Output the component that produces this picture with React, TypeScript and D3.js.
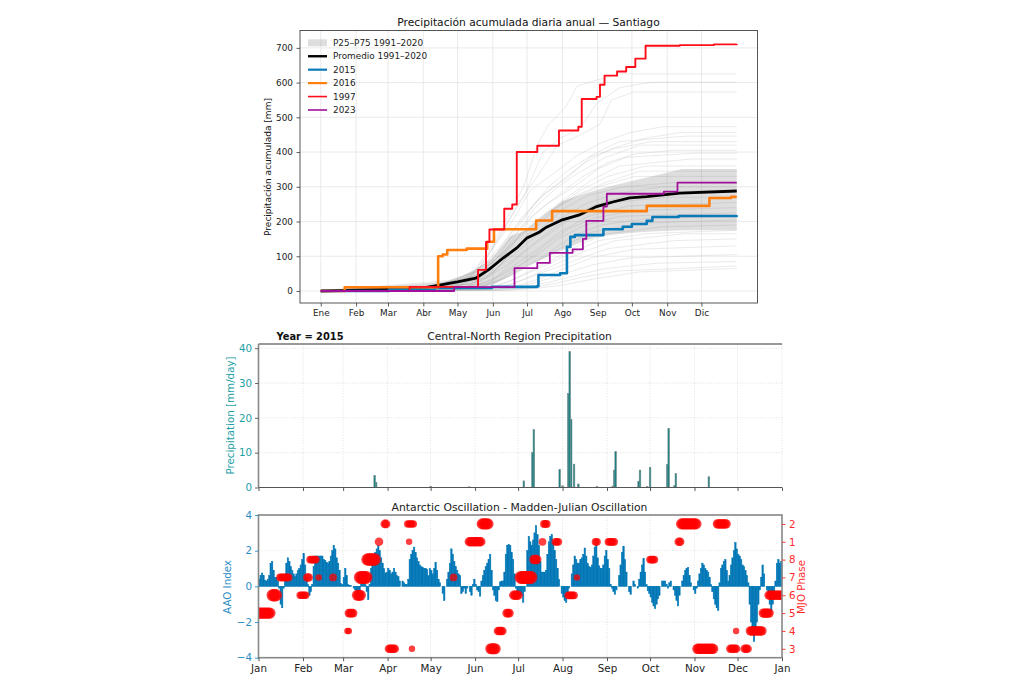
import { useEffect, useRef } from 'react';
import * as d3 from 'd3';

type Step = [number, number];

// top panel: accumulated precipitation, [day of year, mm]
const mesesEs = ['Ene', 'Feb', 'Mar', 'Abr', 'May', 'Jun', 'Jul', 'Ago', 'Sep', 'Oct', 'Nov', 'Dic'];
const monthStarts = [0, 31, 59, 90, 120, 151, 181, 212, 243, 273, 304, 334];
const yTicksTop = [0, 100, 200, 300, 400, 500, 600, 700];

const year1997: Step[] = [[0, 0], [78, 12], [136, 12], [138, 61], [145, 141], [148, 177], [161, 237], [168, 249], [172, 400], [190, 418], [209, 462], [226, 473], [229, 553], [242, 559], [245, 594], [249, 620], [260, 632], [268, 645], [276, 669], [285, 706], [315, 708], [345, 710], [365, 711]];
const year2016: Step[] = [[0, 0], [21, 11], [103, 100], [107, 105], [111, 118], [128, 122], [146, 142], [152, 178], [189, 203], [203, 230], [286, 245], [341, 268], [360, 271], [365, 271]];
const year2015: Step[] = [[0, 0], [60, 4], [100, 9], [150, 12], [190, 14], [191, 46], [210, 51], [216, 127], [219, 156], [223, 161], [248, 178], [265, 185], [273, 193], [286, 202], [291, 213], [314, 216], [365, 218]];
const year2023: Step[] = [[0, 0], [117, 11], [170, 66], [190, 81], [201, 110], [221, 120], [230, 150], [233, 202], [248, 243], [251, 280], [301, 286], [313, 312], [365, 312]];
const meanDays = [0, 60, 90, 104, 120, 136, 148, 160, 172, 181, 192, 198, 212, 227, 242, 257, 271, 286, 315, 365];
const meanVals = [0, 5, 9, 17, 26, 37, 63, 95, 124, 153, 170, 184, 205, 219, 243, 257, 268, 272, 282, 288];
const bandDays = [0, 60, 90, 105, 120, 135, 151, 166, 181, 195, 212, 227, 242, 256, 271, 290, 317, 340, 365];
const bandHigh = [0, 4, 10, 20, 38, 60, 95, 158, 176, 215, 259, 275, 291, 303, 315, 330, 351, 351, 351];
const bandLow = [0, 0, 0, 1, 4, 8, 17, 43, 72, 92, 118, 138, 156, 162, 167, 171, 175, 175, 175];

const otherYears: Step[][] = [
  [[0, 0], [120, 20], [135, 60], [150, 130], [165, 220], [178, 300], [190, 420], [200, 480], [215, 530], [225, 590], [245, 610], [262, 625], [365, 625]],
  [[0, 0], [128, 30], [145, 90], [160, 180], [178, 270], [195, 400], [210, 440], [228, 470], [242, 540], [262, 585], [290, 601], [365, 601]],
  [[0, 0], [110, 15], [140, 70], [158, 160], [175, 260], [190, 330], [208, 420], [225, 445], [245, 480], [255, 550], [275, 573], [365, 573]],
  [[0, 0], [95, 8], [132, 45], [150, 120], [166, 190], [184, 290], [205, 340], [225, 390], [245, 425], [270, 455], [300, 473], [365, 473]],
  [[0, 0], [118, 12], [138, 40], [155, 95], [172, 180], [190, 260], [212, 320], [232, 370], [255, 410], [285, 440], [315, 456], [365, 456]],
  [[0, 0], [40, 6], [124, 25], [146, 85], [163, 150], [180, 220], [200, 300], [218, 350], [240, 395], [262, 430], [320, 446], [365, 446]],
  [[0, 0], [102, 10], [141, 50], [160, 135], [176, 210], [196, 280], [218, 330], [236, 385], [258, 410], [290, 430], [365, 430]],
  [[0, 0], [90, 18], [128, 35], [152, 70], [170, 155], [188, 240], [206, 295], [226, 340], [250, 385], [280, 420], [365, 420]],
  [[0, 0], [133, 20], [148, 60], [168, 130], [185, 215], [210, 280], [230, 330], [252, 370], [276, 395], [310, 405], [365, 405]],
  [[0, 0], [112, 30], [136, 55], [155, 110], [178, 190], [196, 245], [222, 300], [245, 355], [268, 385], [330, 397], [365, 397]],
  [[0, 0], [26, 8], [121, 14], [150, 65], [172, 150], [190, 205], [214, 265], [238, 320], [262, 360], [325, 380], [365, 380]],
  [[0, 0], [106, 22], [142, 60], [162, 115], [182, 180], [206, 240], [228, 290], [252, 330], [285, 360], [365, 360]],
  [[0, 0], [125, 9], [147, 40], [166, 105], [184, 170], [204, 230], [224, 275], [248, 310], [280, 345], [365, 345]],
  [[0, 0], [98, 15], [137, 45], [156, 100], [176, 165], [198, 225], [220, 265], [244, 300], [275, 330], [365, 330]],
  [[0, 0], [130, 18], [152, 55], [170, 120], [192, 175], [212, 235], [234, 275], [266, 300], [310, 312], [365, 312]],
  [[0, 0], [115, 14], [144, 38], [164, 90], [186, 150], [208, 205], [232, 250], [258, 280], [300, 300], [365, 300]],
  [[0, 0], [134, 10], [155, 42], [174, 100], [194, 150], [216, 200], [238, 245], [268, 275], [335, 290], [365, 290]],
  [[0, 0], [108, 8], [140, 28], [162, 72], [182, 125], [204, 180], [226, 225], [256, 255], [305, 270], [365, 270]],
  [[0, 0], [127, 12], [150, 30], [168, 70], [190, 120], [210, 170], [235, 215], [270, 245], [365, 255]],
  [[0, 0], [139, 8], [158, 35], [178, 80], [198, 135], [218, 180], [240, 210], [275, 232], [365, 240]],
  [[0, 0], [116, 6], [146, 22], [166, 60], [188, 100], [208, 150], [232, 190], [262, 215], [365, 225]],
  [[0, 0], [131, 5], [156, 30], [176, 62], [200, 110], [222, 160], [246, 190], [290, 210], [365, 215]],
  [[0, 0], [122, 7], [148, 18], [170, 48], [192, 90], [214, 130], [238, 170], [280, 195], [365, 205]],
  [[0, 0], [143, 4], [162, 22], [184, 58], [206, 95], [228, 135], [252, 165], [300, 185], [365, 190]],
  [[0, 0], [135, 6], [154, 15], [174, 40], [196, 72], [220, 110], [244, 145], [285, 165], [365, 175]],
  [[0, 0], [149, 5], [168, 20], [186, 45], [208, 80], [232, 115], [258, 145], [320, 165], [365, 165]],
  [[0, 0], [141, 3], [160, 12], [180, 35], [202, 62], [226, 92], [252, 122], [310, 145], [365, 150]],
  [[0, 0], [153, 4], [172, 14], [194, 38], [216, 68], [240, 98], [275, 120], [365, 130]],
  [[0, 0], [147, 2], [166, 8], [188, 24], [212, 48], [238, 75], [270, 95], [365, 105]],
  [[0, 0], [157, 3], [178, 10], [200, 25], [224, 45], [250, 65], [295, 80], [365, 85]],
  [[0, 0], [161, 2], [184, 9], [206, 22], [230, 40], [262, 58], [365, 72]],
  [[0, 0], [165, 2], [190, 8], [214, 18], [240, 35], [280, 55], [365, 65]],
];

// middle panel: daily precipitation 2015, day of year and mm/day
const rainDays = [81, 82, 120, 147, 185, 191, 192, 210, 212, 216, 217, 218, 220, 223, 236, 247, 248, 249, 265, 266, 271, 273, 285, 286, 290, 291, 314];
const rainVals = [3.5, 1.5, 0.3, 0.2, 1.9, 10, 16.6, 5.2, 0.5, 27, 39, 19.6, 6.7, 1, 0.3, 0.4, 5, 10.3, 1.8, 5, 0.3, 5.8, 6.6, 17, 0.5, 4, 3.1];
const yTicksMid = [0, 10, 20, 30, 40];

// bottom panel: daily AAO index starting Jan 1, ten days per row
const aaoVals = [
  0.4, 0.6, 0.75, 0.6, 0.35, 0.3, 0.4, 0.6, 1.3, 1.4,
  0.9, 0.5, 0.5, 0.3, -0.1, -1.0, -1.2, -0.1, 0.3, 1.3,
  1.6, 1.4, 1.1, 0.9, 0.7, 0.55, 0.7, 0.9, 1.0, 1.2,
  1.5, 1.85, 1.2, 0.5, 0.1, -0.5, -0.3, 0.1, 1.1, 1.7,
  1.7, 1.7, 1.7, 1.7, 1.7, 1.5, 1.45, 1.35, 1.3, 1.4,
  1.7, 2.0, 2.3, 2.1, 1.6, 1.3, 0.9, 0.15, 0.1, 0.5,
  1.0, 0.6, 0.1, 0.05, 0.05, 0, -0.1, -0.2, -0.3, -0.4,
  -0.2, 0.1, 0.2, 0.2, 0.1, -0.3, -0.75, 0.1, 1.0, 1.3,
  1.6, 1.9, 2.1, 2.3, 2.0, 1.6, 1.3, 1.0, 0.75, 0.8,
  1.0, 0.9, 0.7, 0.8, 1.0, 0.8, 0.6, 0.55, 0.3, 0,
  0.3, 0.2, 0.1, 0.1, 0.4, 1.5, 1.8, 2.0, 2.2, 1.9,
  1.6, 1.4, 1.2, 1.1, 1.05, 1.0, 1.0, 0.95, 0.6, 1.0,
  0.9, 0.7, 1.0, 1.35, 0.9, 0.4, 0.2, 0, -0.4, -0.8,
  0, 0.4, 0.8, 1.3, 2.1, 1.8, 1.4, 1.1, 0.9, 0.7,
  0.6, -0.4, -0.3, -0.1, -0.4, -0.1, 0, -0.3, -0.5, 0.1,
  0.4, 0.1, -0.2, -0.3, -0.55, 0.3, 0.6, 0.9, 1.1, 1.3,
  1.5, 1.8, 0.9, -0.2, -0.5, -0.8, -0.85, -0.2, 0.25, 0.3,
  0.3, 0.8, 1.8, 2.3, 2.35, 2.3, 1.9, 1.5, 0.7, -0.1,
  -0.3, -0.4, -0.4, -0.5, -0.9, -0.3, 0, 2.0, 2.8, 2.5,
  2.3, 2.6, 3.0, 3.4, 2.9, 2.3, 1.4, 0.8, 0.8, 0.8,
  0.9, 1.8, 2.5, 2.8, 2.9, 2.5, 2.0, 1.5, 1.0, 0.4,
  0, -0.4, -0.6, -0.8, -0.9, -0.4, -0.1, 0, 0.7, 1.2,
  1.7, 1.5, 1.3, 1.3, 1.5, 1.6, 1.8, 2.15, 1.7, 1.3,
  1.1, 1.05, 1.2, 1.7, 2.2, 2.3, 1.6, 1.15, 1.0, 1.0,
  1.2, 1.7, 2.0, 1.5, 1.0, 0.1, -0.1, -0.3, -0.45, -0.2,
  0, 0.6, 1.2, 1.9, 2.25, 1.5, 0.8, 0, -0.3, -0.45,
  0, 0.3, 0.1, 0, -0.1, 0.4, 0.8, 1.2, 1.55, 0.8,
  0.1, -0.25, -0.4, -0.6, -0.9, -1.1, -1.25, -1.0, -0.7, -0.5,
  0, 0.3, 0.3, 0.3, 0.1, -0.1, 0.2, 0.3, 0, -0.2,
  -0.5, -0.8, -1.1, -0.5, 0, 0.3, 0.6, 0.9, 1.0, 1.05,
  0.6, 0.2, 0, -0.2, -0.4, -0.1, 0.3, 0.7, 1.0, 1.3,
  1.2, 1.0, 0.9, 0.8, 0.5, 0.1, -0.3, -0.7, -1.0, -1.2,
  -1.35, 0.2, 1.0, 1.2, 1.4, 1.5, 0.9, 0.3, 0.6, 1.2,
  1.6, 2.0, 2.45, 2.1, 1.8, 1.7, 1.5, 1.2, 1.1, 0.9,
  0.6, 0.2, -1.0, -2.0, -2.6, -3.1, -2.6, -2.0, -1.0, -0.2,
  0.5, 1.2, 0.7, 0, -0.2, -0.4, -1.0, -1.4, -1.0, -0.4,
  0.3, 1.3, 1.5, 1.3, 1.4,
];
const yTicksAao = [-4, -2, 0, 2, 4];

// MJO phase in the order of the right axis
const mjoPhases = ['3', '4', '5', '6', '7', '8', '1', '2'];
// [first day, last day, phase, amplitude]
const mjoRuns: [number, number, string, number][] = [
  [0, 8, '5', 2.6], [10, 12, '6', 2.9], [29, 33, '6', 1.7], [15, 21, '7', 1.8], [34, 35, '7', 2], [42, 42, '7', 1.5], [52, 52, '7', 1.8],
  [36, 40, '8', 1.8], [63, 66, '5', 2], [62, 63, '4', 1.5], [69, 71, '6', 2.6], [71, 75, '7', 3], [76, 81, '8', 2.9], [84, 84, '1', 2],
  [88, 89, '2', 2], [91, 95, '3', 2], [104, 108, '2', 1.7], [105, 105, '1', 1.5], [107, 107, '3', 1.5], [136, 136, '7', 1.8],
  [147, 155, '1', 2.2], [156, 160, '2', 2.6], [162, 165, '3', 2.6], [167, 170, '4', 2], [173, 175, '5', 2], [178, 181, '6', 2.2],
  [183, 190, '7', 3], [192, 194, '8', 2.2], [198, 198, '1', 1.8], [199, 201, '2', 1.8], [207, 209, '1', 1.8], [216, 220, '6', 1.8], [222, 222, '7', 1.5],
  [235, 236, '1', 1.8], [244, 248, '1', 1.8], [273, 276, '8', 1.8], [293, 294, '1', 2], [295, 305, '2', 2.6], [306, 317, '3', 2.4],
  [320, 326, '2', 2.2], [329, 333, '3', 2], [333, 333, '4', 1.5], [339, 341, '3', 2], [343, 351, '4', 2.2], [352, 356, '5', 2.2], [356, 365, '6', 2.2],
];

const font = '"DejaVu Sans", sans-serif';
const blue2015 = '#0b7ab8';
const orange2016 = '#ff7f0e';
const red1997 = '#ff0d1a';
const purple2023 = '#a0109a';

export default function App() {
  const ref = useRef<SVGSVGElement>(null);

  useEffect(() => {
    if (!ref.current) return;
    const svg = d3.select(ref.current);
    svg.selectAll('*').remove();
    svg.style('font-family', font);

    // ---- top panel
    const top = { left: 300, right: 757.5, top: 30.5, bottom: 303 };
    const xTop = d3.scaleLinear().domain([-18.2, 383.2]).range([top.left, top.right]);
    const yTop = d3.scaleLinear().domain([-34.5, 750]).range([top.bottom, top.top]);

    const gTop = svg.append('g');
    gTop.append('g').selectAll('line').data(monthStarts).enter().append('line')
      .attr('x1', d => xTop(d)).attr('x2', d => xTop(d))
      .attr('y1', top.top).attr('y2', top.bottom)
      .attr('stroke', '#e8e8e8').attr('stroke-width', 0.9);
    gTop.append('g').selectAll('line').data(yTicksTop).enter().append('line')
      .attr('x1', top.left).attr('x2', top.right)
      .attr('y1', d => yTop(d)).attr('y2', d => yTop(d))
      .attr('stroke', '#e8e8e8').attr('stroke-width', 0.9);

    const stepLine = d3.line<Step>().x(d => xTop(d[0])).y(d => yTop(d[1])).curve(d3.curveStepAfter);
    const thinLine = d3.line<Step>().x(d => xTop(d[0])).y(d => yTop(d[1]));

    gTop.append('g').selectAll('path').data(otherYears).enter().append('path')
      .attr('d', d => thinLine(d))
      .attr('fill', 'none').attr('stroke', '#b4b4b4').attr('stroke-opacity', 0.4).attr('stroke-width', 0.7);

    const band = d3.area<number>()
      .x(d => xTop(bandDays[d]))
      .y0(d => yTop(bandLow[d]))
      .y1(d => yTop(bandHigh[d]));
    gTop.append('path').datum(d3.range(bandDays.length))
      .attr('d', band).attr('fill', '#808080').attr('fill-opacity', 0.26);

    const meanLine = d3.line<number>().x(d => xTop(meanDays[d])).y(d => yTop(meanVals[d]));
    gTop.append('path').datum(d3.range(meanDays.length))
      .attr('d', meanLine).attr('fill', 'none').attr('stroke', '#000').attr('stroke-width', 2.8);

    const highlighted: [Step[], string, number][] = [
      [year2015, blue2015, 2.6],
      [year2016, orange2016, 2.6],
      [year1997, red1997, 1.9],
      [year2023, purple2023, 1.8],
    ];
    highlighted.forEach(([data, color, w]) => {
      gTop.append('path').attr('d', stepLine(data))
        .attr('fill', 'none').attr('stroke', color).attr('stroke-width', w).attr('stroke-linejoin', 'round');
    });

    gTop.append('rect')
      .attr('x', top.left).attr('y', top.top)
      .attr('width', top.right - top.left).attr('height', top.bottom - top.top)
      .attr('fill', 'none').attr('stroke', '#444').attr('stroke-width', 0.9);

    const axB = gTop.append('g').attr('transform', `translate(0,${top.bottom})`)
      .call(d3.axisBottom(xTop).tickValues(monthStarts).tickSize(3.5).tickPadding(3.5).tickFormat((_, i) => mesesEs[i]));
    const axL = gTop.append('g').attr('transform', `translate(${top.left},0)`)
      .call(d3.axisLeft(yTop).tickValues(yTicksTop).tickSize(3.5).tickPadding(3.5));
    [axB, axL].forEach(a => {
      a.select('.domain').remove();
      a.selectAll('text').attr('font-size', 8.9).attr('font-family', font).attr('fill', '#222');
      a.selectAll('line').attr('stroke', '#333').attr('stroke-width', 0.8);
    });

    gTop.append('text').attr('x', 528.5).attr('y', 26).attr('text-anchor', 'middle')
      .attr('font-size', 10.7).attr('fill', '#111').text('Precipitación acumulada diaria anual — Santiago');
    gTop.append('text').attr('transform', 'translate(271,167) rotate(-90)').attr('text-anchor', 'middle')
      .attr('font-size', 9).attr('fill', '#111').text('Precipitación acumulada [mm]');

    // legend
    const legendItems: [string, string, number][] = [
      ['P25–P75 1991–2020', '', 0],
      ['Promedio 1991–2020', '#000', 2.4],
      ['2015', blue2015, 2.2],
      ['2016', orange2016, 2.2],
      ['1997', red1997, 1.6],
      ['2023', purple2023, 1.6],
    ];
    const legendY = d3.scaleLinear().domain([0, 5]).range([42.8, 110]);
    legendItems.forEach(([label, color, w], i) => {
      const y = legendY(i);
      if (i === 0) {
        gTop.append('rect').attr('x', 308).attr('y', y - 3.5).attr('width', 19).attr('height', 7)
          .attr('fill', '#808080').attr('fill-opacity', 0.26);
      } else {
        gTop.append('line').attr('x1', 308).attr('x2', 327).attr('y1', y).attr('y2', y)
          .attr('stroke', color).attr('stroke-width', w);
      }
      gTop.append('text').attr('x', 333).attr('y', y + 3.2).attr('font-size', 8.9).attr('fill', '#222').text(label);
    });

    // ---- middle panel
    const start = new Date(Date.UTC(2015, 0, 1));
    const end = new Date(Date.UTC(2016, 0, 1));
    const toDate = (d: number) => d3.utcDay.offset(start, d);
    const mid = { left: 258.5, right: 782, top: 344, bottom: 487.5 };
    const xMid = d3.scaleUtc().domain([start, end]).range([mid.left, mid.right]);
    const yMid = d3.scaleLinear().domain([0, 41.2]).range([mid.bottom, mid.top]);
    const monthDates = xMid.ticks(d3.utcMonth.every(1)!);
    const teal = '#1ca0a6';

    const gMid = svg.append('g');
    gMid.append('g').selectAll('line').data(monthDates).enter().append('line')
      .attr('x1', d => xMid(d)).attr('x2', d => xMid(d))
      .attr('y1', mid.top).attr('y2', mid.bottom)
      .attr('stroke', '#d4d4d4').attr('stroke-width', 0.7).attr('stroke-dasharray', '1,1.6');
    gMid.append('g').selectAll('line').data(yTicksMid).enter().append('line')
      .attr('x1', mid.left).attr('x2', mid.right)
      .attr('y1', d => yMid(d)).attr('y2', d => yMid(d))
      .attr('stroke', '#d4d4d4').attr('stroke-width', 0.7).attr('stroke-dasharray', '1,1.6');
    gMid.append('g').selectAll('rect').data(rainDays).enter().append('rect')
      .attr('x', d => xMid(toDate(d)) - 0.8)
      .attr('width', 1.6)
      .attr('y', (_, i) => yMid(rainVals[i]))
      .attr('height', (_, i) => yMid(0) - yMid(rainVals[i]))
      .attr('fill', '#0b7f80').attr('stroke', '#7d8f8f').attr('stroke-width', 0.6);

    gMid.append('line').attr('x1', mid.left).attr('x2', mid.right).attr('y1', mid.top).attr('y2', mid.top)
      .attr('stroke', '#777').attr('stroke-width', 1.4);
    gMid.append('line').attr('x1', mid.left).attr('x2', mid.right).attr('y1', mid.bottom).attr('y2', mid.bottom)
      .attr('stroke', '#555').attr('stroke-width', 1);
    gMid.append('line').attr('x1', mid.left).attr('x2', mid.left).attr('y1', mid.top).attr('y2', mid.bottom)
      .attr('stroke', '#888').attr('stroke-width', 1.6);

    const midB = gMid.append('g').attr('transform', `translate(0,${mid.bottom})`)
      .call(d3.axisBottom(xMid).ticks(d3.utcMonth.every(1)!).tickSize(3.5).tickFormat(() => ''));
    midB.select('.domain').remove();
    midB.selectAll('line').attr('stroke', '#444').attr('stroke-width', 0.9);
    const midL = gMid.append('g').attr('transform', `translate(${mid.left},0)`)
      .call(d3.axisLeft(yMid).tickValues(yTicksMid).tickSize(3.5).tickPadding(3));
    midL.select('.domain').remove();
    midL.selectAll('text').attr('font-size', 10.3).attr('font-family', font).attr('fill', teal);
    midL.selectAll('line').attr('stroke', '#555').attr('stroke-width', 0.9);

    gMid.append('text').attr('transform', 'translate(233.5,415.5) rotate(-90)').attr('text-anchor', 'middle')
      .attr('font-size', 10.3).attr('fill', teal).text('Precipitation [mm/day]');
    gMid.append('text').attr('x', 519.5).attr('y', 340).attr('text-anchor', 'middle')
      .attr('font-size', 10.8).attr('fill', '#222').text('Central-North Region Precipitation');
    gMid.append('text').attr('x', 276.5).attr('y', 339.7)
      .attr('font-size', 9.9).attr('font-weight', 'bold').attr('fill', '#111').text('Year = 2015');

    // ---- bottom panel
    const bot = { left: 258.5, right: 782, top: 515, bottom: 657.7 };
    const xBot = d3.scaleUtc().domain([start, end]).range([bot.left, bot.right]);
    const yAao = d3.scaleLinear().domain([-4, 4]).range([bot.bottom, bot.top]);
    const yMjo = d3.scaleLinear().domain([-0.5, 7.5]).range([bot.bottom, bot.top]);
    const rMjo = d3.scaleLinear().domain([0, 4]).range([0, 8.6]);
    const aaoBlue = '#2b8cc4';

    svg.append('defs').append('clipPath').attr('id', 'bot-clip').append('rect')
      .attr('x', bot.left).attr('y', bot.top)
      .attr('width', bot.right - bot.left).attr('height', bot.bottom - bot.top);

    const gBot = svg.append('g');
    gBot.append('g').selectAll('line').data(monthDates).enter().append('line')
      .attr('x1', d => xBot(d)).attr('x2', d => xBot(d))
      .attr('y1', bot.top).attr('y2', bot.bottom)
      .attr('stroke', '#d4d4d4').attr('stroke-width', 0.7).attr('stroke-dasharray', '1,1.6');
    gBot.append('g').selectAll('line').data(yTicksAao).enter().append('line')
      .attr('x1', bot.left).attr('x2', bot.right)
      .attr('y1', d => yAao(d)).attr('y2', d => yAao(d))
      .attr('stroke', '#d4d4d4').attr('stroke-width', 0.7).attr('stroke-dasharray', '1,1.6');

    // the bars touch: a hair of stroke closes the antialiasing gaps between days
    gBot.append('g').selectAll('rect').data(aaoVals).enter().append('rect')
      .attr('x', (_, i) => xBot(toDate(i)))
      .attr('width', (_, i) => xBot(toDate(i + 1)) - xBot(toDate(i)))
      .attr('y', d => yAao(Math.max(d, 0)))
      .attr('height', d => Math.abs(yAao(d) - yAao(0)))
      .attr('fill', '#0077b6').attr('stroke', '#0077b6').attr('stroke-width', 0.5);

    const mjoDots = mjoRuns.flatMap(([a, b, phase, amp]) =>
      d3.range(a, b + 1).map(day => ({ day, phase, amp })));
    gBot.append('g').attr('clip-path', 'url(#bot-clip)')
      .selectAll('circle').data(mjoDots).enter().append('circle')
      .attr('cx', d => xBot(toDate(d.day)))
      .attr('cy', d => yMjo(mjoPhases.indexOf(d.phase)))
      .attr('r', d => rMjo(d.amp))
      .attr('fill', '#ff0000').attr('fill-opacity', 0.75);

    gBot.append('rect')
      .attr('x', bot.left).attr('y', bot.top)
      .attr('width', bot.right - bot.left).attr('height', bot.bottom - bot.top)
      .attr('fill', 'none').attr('stroke', '#888').attr('stroke-width', 1.6);

    const botB = gBot.append('g').attr('transform', `translate(0,${bot.bottom})`)
      .call(d3.axisBottom(xBot).ticks(d3.utcMonth.every(1)!).tickSize(3.5).tickPadding(3)
        .tickFormat(d => d3.utcFormat('%b')(d as Date)));
    botB.select('.domain').remove();
    botB.selectAll('text').attr('font-size', 10.3).attr('font-family', font).attr('fill', '#222');
    botB.selectAll('line').attr('stroke', '#444').attr('stroke-width', 0.9);

    const botL = gBot.append('g').attr('transform', `translate(${bot.left},0)`)
      .call(d3.axisLeft(yAao).tickValues(yTicksAao).tickSize(3.5).tickPadding(3).tickFormat(d => d3.format('d')(d as number).replace('-', '−')));
    botL.select('.domain').remove();
    botL.selectAll('text').attr('font-size', 10.3).attr('font-family', font).attr('fill', aaoBlue);
    botL.selectAll('line').attr('stroke', aaoBlue).attr('stroke-width', 0.9);

    const botR = gBot.append('g').attr('transform', `translate(${bot.right},0)`)
      .call(d3.axisRight(yMjo).tickValues(d3.range(mjoPhases.length)).tickSize(3.5).tickPadding(3.5).tickFormat((_, i) => mjoPhases[i]));
    botR.select('.domain').remove();
    botR.selectAll('text').attr('font-size', 10.3).attr('font-family', font).attr('fill', '#ff2a2a');
    botR.selectAll('line').attr('stroke', '#ff2a2a').attr('stroke-width', 0.9);

    gBot.append('text').attr('transform', 'translate(231,587) rotate(-90)').attr('text-anchor', 'middle')
      .attr('font-size', 10.3).attr('fill', aaoBlue).text('AAO Index');
    gBot.append('text').attr('transform', 'translate(804.5,587) rotate(-90)').attr('text-anchor', 'middle')
      .attr('font-size', 10.3).attr('fill', '#ff2a2a').text('MJO Phase');
    gBot.append('text').attr('x', 519.5).attr('y', 511).attr('text-anchor', 'middle')
      .attr('font-size', 10.8).attr('fill', '#222').text('Antarctic Oscillation - Madden-Julian Oscillation');
  }, []);

  return (
    <svg ref={ref} width={1024} height={694} style={{ position: 'absolute', left: 0, top: 0, background: '#fff' }} />
  );
}
